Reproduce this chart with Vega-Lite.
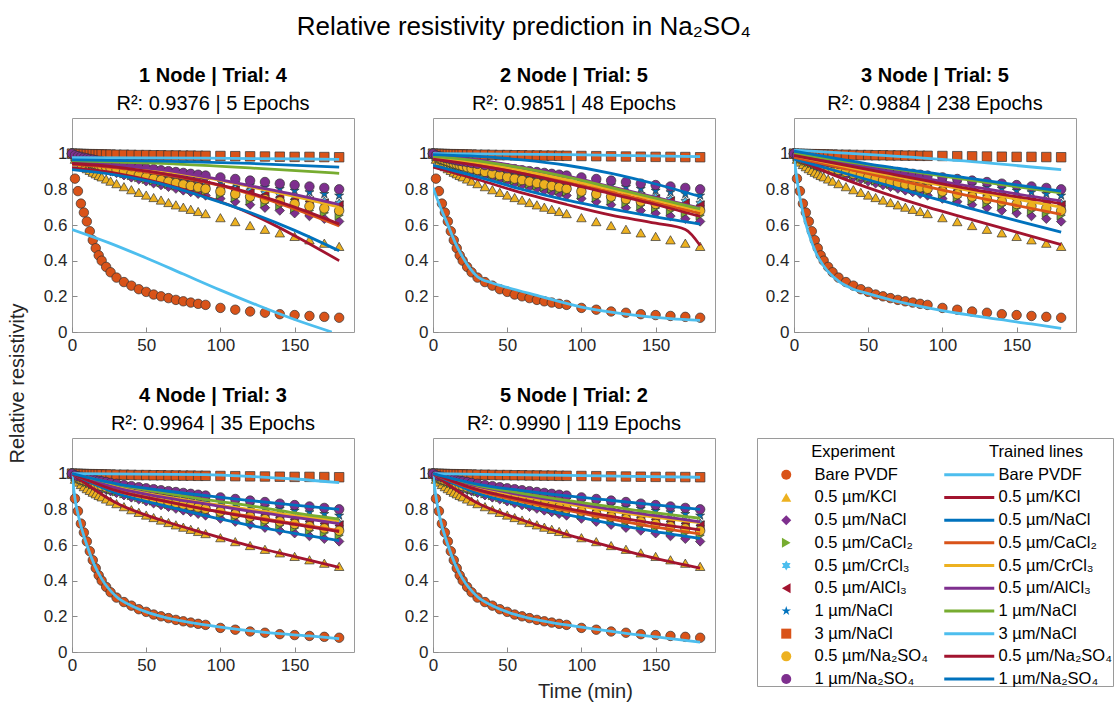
{
"$schema": "https://vega.github.io/schema/vega-lite/v6.json",
"padding": {"left": 7, "top": 13, "right": 0, "bottom": 0},
"title": {"text": "Relative resistivity prediction in Na₂SO₄", "fontSize": 26, "fontWeight": "normal", "anchor": "middle", "offset": 26, "dx": -38},
"datasets": {
"exp": [
{"s":"Bare PVDF","t":0,"v":1},{"s":"Bare PVDF","t":2,"v":0.86},{"s":"Bare PVDF","t":4,"v":0.79},{"s":"Bare PVDF","t":6,"v":0.72},{"s":"Bare PVDF","t":8,"v":0.67},{"s":"Bare PVDF","t":10,"v":0.62},{"s":"Bare PVDF","t":12,"v":0.565},{"s":"Bare PVDF","t":14,"v":0.515},{"s":"Bare PVDF","t":16,"v":0.47},{"s":"Bare PVDF","t":18,"v":0.43},{"s":"Bare PVDF","t":20,"v":0.4},{"s":"Bare PVDF","t":23,"v":0.365},{"s":"Bare PVDF","t":26,"v":0.335},{"s":"Bare PVDF","t":30,"v":0.305},{"s":"Bare PVDF","t":35,"v":0.28},{"s":"Bare PVDF","t":40,"v":0.26},{"s":"Bare PVDF","t":45,"v":0.24},{"s":"Bare PVDF","t":50,"v":0.225},{"s":"Bare PVDF","t":55,"v":0.21},{"s":"Bare PVDF","t":60,"v":0.2},{"s":"Bare PVDF","t":65,"v":0.19},{"s":"Bare PVDF","t":70,"v":0.18},{"s":"Bare PVDF","t":75,"v":0.172},{"s":"Bare PVDF","t":80,"v":0.165},{"s":"Bare PVDF","t":85,"v":0.158},{"s":"Bare PVDF","t":90,"v":0.152},{"s":"Bare PVDF","t":100,"v":0.135},{"s":"Bare PVDF","t":110,"v":0.125},{"s":"Bare PVDF","t":120,"v":0.115},{"s":"Bare PVDF","t":130,"v":0.108},{"s":"Bare PVDF","t":140,"v":0.1},{"s":"Bare PVDF","t":150,"v":0.095},{"s":"Bare PVDF","t":160,"v":0.09},{"s":"Bare PVDF","t":170,"v":0.085},{"s":"Bare PVDF","t":180,"v":0.08},
{"s":"0.5 µm/KCl","t":0,"v":1},{"s":"0.5 µm/KCl","t":2,"v":0.969},{"s":"0.5 µm/KCl","t":4,"v":0.953},{"s":"0.5 µm/KCl","t":6,"v":0.939},{"s":"0.5 µm/KCl","t":8,"v":0.927},{"s":"0.5 µm/KCl","t":10,"v":0.916},{"s":"0.5 µm/KCl","t":12,"v":0.906},{"s":"0.5 µm/KCl","t":14,"v":0.896},{"s":"0.5 µm/KCl","t":16,"v":0.887},{"s":"0.5 µm/KCl","t":18,"v":0.878},{"s":"0.5 µm/KCl","t":20,"v":0.87},{"s":"0.5 µm/KCl","t":23,"v":0.858},{"s":"0.5 µm/KCl","t":26,"v":0.846},{"s":"0.5 µm/KCl","t":30,"v":0.832},{"s":"0.5 µm/KCl","t":35,"v":0.815},{"s":"0.5 µm/KCl","t":40,"v":0.798},{"s":"0.5 µm/KCl","t":45,"v":0.783},{"s":"0.5 µm/KCl","t":50,"v":0.768},{"s":"0.5 µm/KCl","t":55,"v":0.754},{"s":"0.5 µm/KCl","t":60,"v":0.74},{"s":"0.5 µm/KCl","t":65,"v":0.726},{"s":"0.5 µm/KCl","t":70,"v":0.713},{"s":"0.5 µm/KCl","t":75,"v":0.7},{"s":"0.5 µm/KCl","t":80,"v":0.688},{"s":"0.5 µm/KCl","t":85,"v":0.676},{"s":"0.5 µm/KCl","t":90,"v":0.664},{"s":"0.5 µm/KCl","t":100,"v":0.641},{"s":"0.5 µm/KCl","t":110,"v":0.619},{"s":"0.5 µm/KCl","t":120,"v":0.597},{"s":"0.5 µm/KCl","t":130,"v":0.576},{"s":"0.5 µm/KCl","t":140,"v":0.556},{"s":"0.5 µm/KCl","t":150,"v":0.536},{"s":"0.5 µm/KCl","t":160,"v":0.517},{"s":"0.5 µm/KCl","t":170,"v":0.498},{"s":"0.5 µm/KCl","t":180,"v":0.48},
{"s":"0.5 µm/NaCl","t":0,"v":1},{"s":"0.5 µm/NaCl","t":2,"v":0.984},{"s":"0.5 µm/NaCl","t":4,"v":0.974},{"s":"0.5 µm/NaCl","t":6,"v":0.965},{"s":"0.5 µm/NaCl","t":8,"v":0.957},{"s":"0.5 µm/NaCl","t":10,"v":0.95},{"s":"0.5 µm/NaCl","t":12,"v":0.943},{"s":"0.5 µm/NaCl","t":14,"v":0.936},{"s":"0.5 µm/NaCl","t":16,"v":0.93},{"s":"0.5 µm/NaCl","t":18,"v":0.924},{"s":"0.5 µm/NaCl","t":20,"v":0.918},{"s":"0.5 µm/NaCl","t":23,"v":0.91},{"s":"0.5 µm/NaCl","t":26,"v":0.902},{"s":"0.5 µm/NaCl","t":30,"v":0.892},{"s":"0.5 µm/NaCl","t":35,"v":0.879},{"s":"0.5 µm/NaCl","t":40,"v":0.867},{"s":"0.5 µm/NaCl","t":45,"v":0.856},{"s":"0.5 µm/NaCl","t":50,"v":0.845},{"s":"0.5 µm/NaCl","t":55,"v":0.834},{"s":"0.5 µm/NaCl","t":60,"v":0.824},{"s":"0.5 µm/NaCl","t":65,"v":0.814},{"s":"0.5 µm/NaCl","t":70,"v":0.804},{"s":"0.5 µm/NaCl","t":75,"v":0.794},{"s":"0.5 µm/NaCl","t":80,"v":0.785},{"s":"0.5 µm/NaCl","t":85,"v":0.775},{"s":"0.5 µm/NaCl","t":90,"v":0.766},{"s":"0.5 µm/NaCl","t":100,"v":0.748},{"s":"0.5 µm/NaCl","t":110,"v":0.731},{"s":"0.5 µm/NaCl","t":120,"v":0.714},{"s":"0.5 µm/NaCl","t":130,"v":0.697},{"s":"0.5 µm/NaCl","t":140,"v":0.681},{"s":"0.5 µm/NaCl","t":150,"v":0.666},{"s":"0.5 µm/NaCl","t":160,"v":0.65},{"s":"0.5 µm/NaCl","t":170,"v":0.635},{"s":"0.5 µm/NaCl","t":180,"v":0.62},
{"s":"0.5 µm/CaCl₂","t":0,"v":1},{"s":"0.5 µm/CaCl₂","t":2,"v":0.985},{"s":"0.5 µm/CaCl₂","t":4,"v":0.976},{"s":"0.5 µm/CaCl₂","t":6,"v":0.968},{"s":"0.5 µm/CaCl₂","t":8,"v":0.961},{"s":"0.5 µm/CaCl₂","t":10,"v":0.954},{"s":"0.5 µm/CaCl₂","t":12,"v":0.948},{"s":"0.5 µm/CaCl₂","t":14,"v":0.942},{"s":"0.5 µm/CaCl₂","t":16,"v":0.937},{"s":"0.5 µm/CaCl₂","t":18,"v":0.931},{"s":"0.5 µm/CaCl₂","t":20,"v":0.926},{"s":"0.5 µm/CaCl₂","t":23,"v":0.918},{"s":"0.5 µm/CaCl₂","t":26,"v":0.911},{"s":"0.5 µm/CaCl₂","t":30,"v":0.902},{"s":"0.5 µm/CaCl₂","t":35,"v":0.89},{"s":"0.5 µm/CaCl₂","t":40,"v":0.88},{"s":"0.5 µm/CaCl₂","t":45,"v":0.869},{"s":"0.5 µm/CaCl₂","t":50,"v":0.859},{"s":"0.5 µm/CaCl₂","t":55,"v":0.85},{"s":"0.5 µm/CaCl₂","t":60,"v":0.84},{"s":"0.5 µm/CaCl₂","t":65,"v":0.831},{"s":"0.5 µm/CaCl₂","t":70,"v":0.822},{"s":"0.5 µm/CaCl₂","t":75,"v":0.813},{"s":"0.5 µm/CaCl₂","t":80,"v":0.804},{"s":"0.5 µm/CaCl₂","t":85,"v":0.796},{"s":"0.5 µm/CaCl₂","t":90,"v":0.788},{"s":"0.5 µm/CaCl₂","t":100,"v":0.771},{"s":"0.5 µm/CaCl₂","t":110,"v":0.756},{"s":"0.5 µm/CaCl₂","t":120,"v":0.74},{"s":"0.5 µm/CaCl₂","t":130,"v":0.725},{"s":"0.5 µm/CaCl₂","t":140,"v":0.711},{"s":"0.5 µm/CaCl₂","t":150,"v":0.696},{"s":"0.5 µm/CaCl₂","t":160,"v":0.682},{"s":"0.5 µm/CaCl₂","t":170,"v":0.669},{"s":"0.5 µm/CaCl₂","t":180,"v":0.655},
{"s":"0.5 µm/CrCl₃","t":0,"v":1},{"s":"0.5 µm/CrCl₃","t":2,"v":0.988},{"s":"0.5 µm/CrCl₃","t":4,"v":0.981},{"s":"0.5 µm/CrCl₃","t":6,"v":0.974},{"s":"0.5 µm/CrCl₃","t":8,"v":0.968},{"s":"0.5 µm/CrCl₃","t":10,"v":0.963},{"s":"0.5 µm/CrCl₃","t":12,"v":0.958},{"s":"0.5 µm/CrCl₃","t":14,"v":0.953},{"s":"0.5 µm/CrCl₃","t":16,"v":0.949},{"s":"0.5 µm/CrCl₃","t":18,"v":0.944},{"s":"0.5 µm/CrCl₃","t":20,"v":0.94},{"s":"0.5 µm/CrCl₃","t":23,"v":0.934},{"s":"0.5 µm/CrCl₃","t":26,"v":0.928},{"s":"0.5 µm/CrCl₃","t":30,"v":0.92},{"s":"0.5 µm/CrCl₃","t":35,"v":0.911},{"s":"0.5 µm/CrCl₃","t":40,"v":0.902},{"s":"0.5 µm/CrCl₃","t":45,"v":0.894},{"s":"0.5 µm/CrCl₃","t":50,"v":0.886},{"s":"0.5 µm/CrCl₃","t":55,"v":0.878},{"s":"0.5 µm/CrCl₃","t":60,"v":0.87},{"s":"0.5 µm/CrCl₃","t":65,"v":0.863},{"s":"0.5 µm/CrCl₃","t":70,"v":0.855},{"s":"0.5 µm/CrCl₃","t":75,"v":0.848},{"s":"0.5 µm/CrCl₃","t":80,"v":0.841},{"s":"0.5 µm/CrCl₃","t":85,"v":0.834},{"s":"0.5 µm/CrCl₃","t":90,"v":0.828},{"s":"0.5 µm/CrCl₃","t":100,"v":0.814},{"s":"0.5 µm/CrCl₃","t":110,"v":0.802},{"s":"0.5 µm/CrCl₃","t":120,"v":0.789},{"s":"0.5 µm/CrCl₃","t":130,"v":0.777},{"s":"0.5 µm/CrCl₃","t":140,"v":0.765},{"s":"0.5 µm/CrCl₃","t":150,"v":0.754},{"s":"0.5 µm/CrCl₃","t":160,"v":0.742},{"s":"0.5 µm/CrCl₃","t":170,"v":0.731},{"s":"0.5 µm/CrCl₃","t":180,"v":0.72},
{"s":"0.5 µm/AlCl₃","t":0,"v":1},{"s":"0.5 µm/AlCl₃","t":2,"v":0.988},{"s":"0.5 µm/AlCl₃","t":4,"v":0.98},{"s":"0.5 µm/AlCl₃","t":6,"v":0.973},{"s":"0.5 µm/AlCl₃","t":8,"v":0.967},{"s":"0.5 µm/AlCl₃","t":10,"v":0.962},{"s":"0.5 µm/AlCl₃","t":12,"v":0.956},{"s":"0.5 µm/AlCl₃","t":14,"v":0.951},{"s":"0.5 µm/AlCl₃","t":16,"v":0.947},{"s":"0.5 µm/AlCl₃","t":18,"v":0.942},{"s":"0.5 µm/AlCl₃","t":20,"v":0.938},{"s":"0.5 µm/AlCl₃","t":23,"v":0.931},{"s":"0.5 µm/AlCl₃","t":26,"v":0.925},{"s":"0.5 µm/AlCl₃","t":30,"v":0.917},{"s":"0.5 µm/AlCl₃","t":35,"v":0.908},{"s":"0.5 µm/AlCl₃","t":40,"v":0.899},{"s":"0.5 µm/AlCl₃","t":45,"v":0.89},{"s":"0.5 µm/AlCl₃","t":50,"v":0.882},{"s":"0.5 µm/AlCl₃","t":55,"v":0.874},{"s":"0.5 µm/AlCl₃","t":60,"v":0.866},{"s":"0.5 µm/AlCl₃","t":65,"v":0.858},{"s":"0.5 µm/AlCl₃","t":70,"v":0.85},{"s":"0.5 µm/AlCl₃","t":75,"v":0.843},{"s":"0.5 µm/AlCl₃","t":80,"v":0.836},{"s":"0.5 µm/AlCl₃","t":85,"v":0.829},{"s":"0.5 µm/AlCl₃","t":90,"v":0.821},{"s":"0.5 µm/AlCl₃","t":100,"v":0.808},{"s":"0.5 µm/AlCl₃","t":110,"v":0.795},{"s":"0.5 µm/AlCl₃","t":120,"v":0.782},{"s":"0.5 µm/AlCl₃","t":130,"v":0.769},{"s":"0.5 µm/AlCl₃","t":140,"v":0.757},{"s":"0.5 µm/AlCl₃","t":150,"v":0.745},{"s":"0.5 µm/AlCl₃","t":160,"v":0.733},{"s":"0.5 µm/AlCl₃","t":170,"v":0.721},{"s":"0.5 µm/AlCl₃","t":180,"v":0.71},
{"s":"1 µm/NaCl","t":0,"v":1},{"s":"1 µm/NaCl","t":2,"v":0.99},{"s":"1 µm/NaCl","t":4,"v":0.984},{"s":"1 µm/NaCl","t":6,"v":0.978},{"s":"1 µm/NaCl","t":8,"v":0.973},{"s":"1 µm/NaCl","t":10,"v":0.969},{"s":"1 µm/NaCl","t":12,"v":0.965},{"s":"1 µm/NaCl","t":14,"v":0.961},{"s":"1 µm/NaCl","t":16,"v":0.957},{"s":"1 µm/NaCl","t":18,"v":0.953},{"s":"1 µm/NaCl","t":20,"v":0.95},{"s":"1 µm/NaCl","t":23,"v":0.944},{"s":"1 µm/NaCl","t":26,"v":0.939},{"s":"1 µm/NaCl","t":30,"v":0.933},{"s":"1 µm/NaCl","t":35,"v":0.925},{"s":"1 µm/NaCl","t":40,"v":0.918},{"s":"1 µm/NaCl","t":45,"v":0.911},{"s":"1 µm/NaCl","t":50,"v":0.904},{"s":"1 µm/NaCl","t":55,"v":0.898},{"s":"1 µm/NaCl","t":60,"v":0.891},{"s":"1 µm/NaCl","t":65,"v":0.885},{"s":"1 µm/NaCl","t":70,"v":0.879},{"s":"1 µm/NaCl","t":75,"v":0.873},{"s":"1 µm/NaCl","t":80,"v":0.867},{"s":"1 µm/NaCl","t":85,"v":0.861},{"s":"1 µm/NaCl","t":90,"v":0.855},{"s":"1 µm/NaCl","t":100,"v":0.844},{"s":"1 µm/NaCl","t":110,"v":0.834},{"s":"1 µm/NaCl","t":120,"v":0.823},{"s":"1 µm/NaCl","t":130,"v":0.813},{"s":"1 µm/NaCl","t":140,"v":0.803},{"s":"1 µm/NaCl","t":150,"v":0.793},{"s":"1 µm/NaCl","t":160,"v":0.784},{"s":"1 µm/NaCl","t":170,"v":0.774},{"s":"1 µm/NaCl","t":180,"v":0.765},
{"s":"3 µm/NaCl","t":0,"v":1},{"s":"3 µm/NaCl","t":2,"v":0.999},{"s":"3 µm/NaCl","t":4,"v":0.999},{"s":"3 µm/NaCl","t":6,"v":0.998},{"s":"3 µm/NaCl","t":8,"v":0.998},{"s":"3 µm/NaCl","t":10,"v":0.997},{"s":"3 µm/NaCl","t":12,"v":0.997},{"s":"3 µm/NaCl","t":14,"v":0.997},{"s":"3 µm/NaCl","t":16,"v":0.996},{"s":"3 µm/NaCl","t":18,"v":0.996},{"s":"3 µm/NaCl","t":20,"v":0.996},{"s":"3 µm/NaCl","t":23,"v":0.995},{"s":"3 µm/NaCl","t":26,"v":0.995},{"s":"3 µm/NaCl","t":30,"v":0.994},{"s":"3 µm/NaCl","t":35,"v":0.994},{"s":"3 µm/NaCl","t":40,"v":0.993},{"s":"3 µm/NaCl","t":45,"v":0.992},{"s":"3 µm/NaCl","t":50,"v":0.992},{"s":"3 µm/NaCl","t":55,"v":0.991},{"s":"3 µm/NaCl","t":60,"v":0.991},{"s":"3 µm/NaCl","t":65,"v":0.99},{"s":"3 µm/NaCl","t":70,"v":0.99},{"s":"3 µm/NaCl","t":75,"v":0.989},{"s":"3 µm/NaCl","t":80,"v":0.989},{"s":"3 µm/NaCl","t":85,"v":0.988},{"s":"3 µm/NaCl","t":90,"v":0.988},{"s":"3 µm/NaCl","t":100,"v":0.987},{"s":"3 µm/NaCl","t":110,"v":0.986},{"s":"3 µm/NaCl","t":120,"v":0.985},{"s":"3 µm/NaCl","t":130,"v":0.984},{"s":"3 µm/NaCl","t":140,"v":0.983},{"s":"3 µm/NaCl","t":150,"v":0.982},{"s":"3 µm/NaCl","t":160,"v":0.982},{"s":"3 µm/NaCl","t":170,"v":0.981},{"s":"3 µm/NaCl","t":180,"v":0.98},
{"s":"0.5 µm/Na₂SO₄","t":0,"v":1},{"s":"0.5 µm/Na₂SO₄","t":2,"v":0.986},{"s":"0.5 µm/Na₂SO₄","t":4,"v":0.978},{"s":"0.5 µm/Na₂SO₄","t":6,"v":0.97},{"s":"0.5 µm/Na₂SO₄","t":8,"v":0.964},{"s":"0.5 µm/Na₂SO₄","t":10,"v":0.958},{"s":"0.5 µm/Na₂SO₄","t":12,"v":0.952},{"s":"0.5 µm/Na₂SO₄","t":14,"v":0.946},{"s":"0.5 µm/Na₂SO₄","t":16,"v":0.941},{"s":"0.5 µm/Na₂SO₄","t":18,"v":0.936},{"s":"0.5 µm/Na₂SO₄","t":20,"v":0.931},{"s":"0.5 µm/Na₂SO₄","t":23,"v":0.924},{"s":"0.5 µm/Na₂SO₄","t":26,"v":0.917},{"s":"0.5 µm/Na₂SO₄","t":30,"v":0.909},{"s":"0.5 µm/Na₂SO₄","t":35,"v":0.898},{"s":"0.5 µm/Na₂SO₄","t":40,"v":0.888},{"s":"0.5 µm/Na₂SO₄","t":45,"v":0.879},{"s":"0.5 µm/Na₂SO₄","t":50,"v":0.869},{"s":"0.5 µm/Na₂SO₄","t":55,"v":0.86},{"s":"0.5 µm/Na₂SO₄","t":60,"v":0.852},{"s":"0.5 µm/Na₂SO₄","t":65,"v":0.843},{"s":"0.5 µm/Na₂SO₄","t":70,"v":0.835},{"s":"0.5 µm/Na₂SO₄","t":75,"v":0.827},{"s":"0.5 µm/Na₂SO₄","t":80,"v":0.819},{"s":"0.5 µm/Na₂SO₄","t":85,"v":0.811},{"s":"0.5 µm/Na₂SO₄","t":90,"v":0.803},{"s":"0.5 µm/Na₂SO₄","t":100,"v":0.788},{"s":"0.5 µm/Na₂SO₄","t":110,"v":0.773},{"s":"0.5 µm/Na₂SO₄","t":120,"v":0.759},{"s":"0.5 µm/Na₂SO₄","t":130,"v":0.745},{"s":"0.5 µm/Na₂SO₄","t":140,"v":0.732},{"s":"0.5 µm/Na₂SO₄","t":150,"v":0.718},{"s":"0.5 µm/Na₂SO₄","t":160,"v":0.705},{"s":"0.5 µm/Na₂SO₄","t":170,"v":0.693},{"s":"0.5 µm/Na₂SO₄","t":180,"v":0.68},
{"s":"1 µm/Na₂SO₄","t":0,"v":1},{"s":"1 µm/Na₂SO₄","t":2,"v":0.991},{"s":"1 µm/Na₂SO₄","t":4,"v":0.986},{"s":"1 µm/Na₂SO₄","t":6,"v":0.982},{"s":"1 µm/Na₂SO₄","t":8,"v":0.977},{"s":"1 µm/Na₂SO₄","t":10,"v":0.974},{"s":"1 µm/Na₂SO₄","t":12,"v":0.97},{"s":"1 µm/Na₂SO₄","t":14,"v":0.967},{"s":"1 µm/Na₂SO₄","t":16,"v":0.963},{"s":"1 µm/Na₂SO₄","t":18,"v":0.96},{"s":"1 µm/Na₂SO₄","t":20,"v":0.957},{"s":"1 µm/Na₂SO₄","t":23,"v":0.953},{"s":"1 µm/Na₂SO₄","t":26,"v":0.948},{"s":"1 µm/Na₂SO₄","t":30,"v":0.943},{"s":"1 µm/Na₂SO₄","t":35,"v":0.936},{"s":"1 µm/Na₂SO₄","t":40,"v":0.93},{"s":"1 µm/Na₂SO₄","t":45,"v":0.924},{"s":"1 µm/Na₂SO₄","t":50,"v":0.918},{"s":"1 µm/Na₂SO₄","t":55,"v":0.913},{"s":"1 µm/Na₂SO₄","t":60,"v":0.907},{"s":"1 µm/Na₂SO₄","t":65,"v":0.902},{"s":"1 µm/Na₂SO₄","t":70,"v":0.897},{"s":"1 µm/Na₂SO₄","t":75,"v":0.892},{"s":"1 µm/Na₂SO₄","t":80,"v":0.887},{"s":"1 µm/Na₂SO₄","t":85,"v":0.882},{"s":"1 µm/Na₂SO₄","t":90,"v":0.877},{"s":"1 µm/Na₂SO₄","t":100,"v":0.867},{"s":"1 µm/Na₂SO₄","t":110,"v":0.858},{"s":"1 µm/Na₂SO₄","t":120,"v":0.849},{"s":"1 µm/Na₂SO₄","t":130,"v":0.841},{"s":"1 µm/Na₂SO₄","t":140,"v":0.832},{"s":"1 µm/Na₂SO₄","t":150,"v":0.824},{"s":"1 µm/Na₂SO₄","t":160,"v":0.816},{"s":"1 µm/Na₂SO₄","t":170,"v":0.808},{"s":"1 µm/Na₂SO₄","t":180,"v":0.8}
],
"fit": [
{"p":1,"s":"Bare PVDF","t":0,"v":0.575},{"p":1,"s":"Bare PVDF","t":25,"v":0.5},{"p":1,"s":"Bare PVDF","t":50,"v":0.415},{"p":1,"s":"Bare PVDF","t":75,"v":0.325},{"p":1,"s":"Bare PVDF","t":100,"v":0.235},{"p":1,"s":"Bare PVDF","t":125,"v":0.15},{"p":1,"s":"Bare PVDF","t":150,"v":0.07},{"p":1,"s":"Bare PVDF","t":175,"v":0},
{"p":1,"s":"0.5 µm/KCl","t":0,"v":0.92},{"p":1,"s":"0.5 µm/KCl","t":30,"v":0.89},{"p":1,"s":"0.5 µm/KCl","t":60,"v":0.835},{"p":1,"s":"0.5 µm/KCl","t":90,"v":0.76},{"p":1,"s":"0.5 µm/KCl","t":120,"v":0.665},{"p":1,"s":"0.5 µm/KCl","t":150,"v":0.54},{"p":1,"s":"0.5 µm/KCl","t":180,"v":0.4},
{"p":1,"s":"0.5 µm/NaCl","t":0,"v":0.91},{"p":1,"s":"0.5 µm/NaCl","t":30,"v":0.88},{"p":1,"s":"0.5 µm/NaCl","t":60,"v":0.83},{"p":1,"s":"0.5 µm/NaCl","t":90,"v":0.755},{"p":1,"s":"0.5 µm/NaCl","t":120,"v":0.67},{"p":1,"s":"0.5 µm/NaCl","t":150,"v":0.57},{"p":1,"s":"0.5 µm/NaCl","t":180,"v":0.455},
{"p":1,"s":"0.5 µm/CaCl₂","t":0,"v":0.94},{"p":1,"s":"0.5 µm/CaCl₂","t":30,"v":0.92},{"p":1,"s":"0.5 µm/CaCl₂","t":60,"v":0.885},{"p":1,"s":"0.5 µm/CaCl₂","t":90,"v":0.84},{"p":1,"s":"0.5 µm/CaCl₂","t":120,"v":0.775},{"p":1,"s":"0.5 µm/CaCl₂","t":150,"v":0.69},{"p":1,"s":"0.5 µm/CaCl₂","t":180,"v":0.595},
{"p":1,"s":"0.5 µm/CrCl₃","t":0,"v":0.95},{"p":1,"s":"0.5 µm/CrCl₃","t":30,"v":0.932},{"p":1,"s":"0.5 µm/CrCl₃","t":60,"v":0.905},{"p":1,"s":"0.5 µm/CrCl₃","t":90,"v":0.865},{"p":1,"s":"0.5 µm/CrCl₃","t":120,"v":0.815},{"p":1,"s":"0.5 µm/CrCl₃","t":150,"v":0.76},{"p":1,"s":"0.5 µm/CrCl₃","t":180,"v":0.7},
{"p":1,"s":"0.5 µm/AlCl₃","t":0,"v":0.95},{"p":1,"s":"0.5 µm/AlCl₃","t":30,"v":0.935},{"p":1,"s":"0.5 µm/AlCl₃","t":60,"v":0.91},{"p":1,"s":"0.5 µm/AlCl₃","t":90,"v":0.87},{"p":1,"s":"0.5 µm/AlCl₃","t":120,"v":0.82},{"p":1,"s":"0.5 µm/AlCl₃","t":150,"v":0.77},{"p":1,"s":"0.5 µm/AlCl₃","t":180,"v":0.715},
{"p":1,"s":"1 µm/NaCl","t":0,"v":0.96},{"p":1,"s":"1 µm/NaCl","t":60,"v":0.945},{"p":1,"s":"1 µm/NaCl","t":120,"v":0.92},{"p":1,"s":"1 µm/NaCl","t":180,"v":0.89},
{"p":1,"s":"3 µm/NaCl","t":0,"v":0.978},{"p":1,"s":"3 µm/NaCl","t":90,"v":0.975},{"p":1,"s":"3 µm/NaCl","t":180,"v":0.968},
{"p":1,"s":"0.5 µm/Na₂SO₄","t":0,"v":0.945},{"p":1,"s":"0.5 µm/Na₂SO₄","t":30,"v":0.925},{"p":1,"s":"0.5 µm/Na₂SO₄","t":60,"v":0.89},{"p":1,"s":"0.5 µm/Na₂SO₄","t":90,"v":0.843},{"p":1,"s":"0.5 µm/Na₂SO₄","t":120,"v":0.78},{"p":1,"s":"0.5 µm/Na₂SO₄","t":150,"v":0.7},{"p":1,"s":"0.5 µm/Na₂SO₄","t":180,"v":0.605},
{"p":1,"s":"1 µm/Na₂SO₄","t":0,"v":0.965},{"p":1,"s":"1 µm/Na₂SO₄","t":60,"v":0.958},{"p":1,"s":"1 µm/Na₂SO₄","t":120,"v":0.945},{"p":1,"s":"1 µm/Na₂SO₄","t":180,"v":0.925},
{"p":2,"s":"Bare PVDF","t":0,"v":0.81},{"p":2,"s":"Bare PVDF","t":5,"v":0.7},{"p":2,"s":"Bare PVDF","t":10,"v":0.6},{"p":2,"s":"Bare PVDF","t":15,"v":0.5},{"p":2,"s":"Bare PVDF","t":20,"v":0.42},{"p":2,"s":"Bare PVDF","t":25,"v":0.355},{"p":2,"s":"Bare PVDF","t":30,"v":0.31},{"p":2,"s":"Bare PVDF","t":40,"v":0.275},{"p":2,"s":"Bare PVDF","t":50,"v":0.25},{"p":2,"s":"Bare PVDF","t":70,"v":0.205},{"p":2,"s":"Bare PVDF","t":100,"v":0.14},{"p":2,"s":"Bare PVDF","t":130,"v":0.1},{"p":2,"s":"Bare PVDF","t":160,"v":0.075},{"p":2,"s":"Bare PVDF","t":180,"v":0.065},
{"p":2,"s":"0.5 µm/KCl","t":0,"v":0.925},{"p":2,"s":"0.5 µm/KCl","t":30,"v":0.855},{"p":2,"s":"0.5 µm/KCl","t":60,"v":0.78},{"p":2,"s":"0.5 µm/KCl","t":90,"v":0.715},{"p":2,"s":"0.5 µm/KCl","t":120,"v":0.655},{"p":2,"s":"0.5 µm/KCl","t":150,"v":0.61},{"p":2,"s":"0.5 µm/KCl","t":170,"v":0.575},{"p":2,"s":"0.5 µm/KCl","t":180,"v":0.485},
{"p":2,"s":"0.5 µm/NaCl","t":0,"v":0.935},{"p":2,"s":"0.5 µm/NaCl","t":30,"v":0.87},{"p":2,"s":"0.5 µm/NaCl","t":60,"v":0.8},{"p":2,"s":"0.5 µm/NaCl","t":90,"v":0.74},{"p":2,"s":"0.5 µm/NaCl","t":120,"v":0.69},{"p":2,"s":"0.5 µm/NaCl","t":150,"v":0.645},{"p":2,"s":"0.5 µm/NaCl","t":180,"v":0.605},
{"p":2,"s":"0.5 µm/CaCl₂","t":0,"v":0.975},{"p":2,"s":"0.5 µm/CaCl₂","t":30,"v":0.94},{"p":2,"s":"0.5 µm/CaCl₂","t":60,"v":0.895},{"p":2,"s":"0.5 µm/CaCl₂","t":90,"v":0.84},{"p":2,"s":"0.5 µm/CaCl₂","t":120,"v":0.785},{"p":2,"s":"0.5 µm/CaCl₂","t":150,"v":0.725},{"p":2,"s":"0.5 µm/CaCl₂","t":180,"v":0.665},
{"p":2,"s":"0.5 µm/CrCl₃","t":0,"v":0.98},{"p":2,"s":"0.5 µm/CrCl₃","t":30,"v":0.95},{"p":2,"s":"0.5 µm/CrCl₃","t":60,"v":0.905},{"p":2,"s":"0.5 µm/CrCl₃","t":90,"v":0.855},{"p":2,"s":"0.5 µm/CrCl₃","t":120,"v":0.8},{"p":2,"s":"0.5 µm/CrCl₃","t":150,"v":0.74},{"p":2,"s":"0.5 µm/CrCl₃","t":180,"v":0.68},
{"p":2,"s":"0.5 µm/AlCl₃","t":0,"v":0.99},{"p":2,"s":"0.5 µm/AlCl₃","t":30,"v":0.965},{"p":2,"s":"0.5 µm/AlCl₃","t":60,"v":0.925},{"p":2,"s":"0.5 µm/AlCl₃","t":90,"v":0.875},{"p":2,"s":"0.5 µm/AlCl₃","t":120,"v":0.815},{"p":2,"s":"0.5 µm/AlCl₃","t":150,"v":0.755},{"p":2,"s":"0.5 µm/AlCl₃","t":180,"v":0.695},
{"p":2,"s":"1 µm/NaCl","t":0,"v":0.985},{"p":2,"s":"1 µm/NaCl","t":30,"v":0.96},{"p":2,"s":"1 µm/NaCl","t":60,"v":0.92},{"p":2,"s":"1 µm/NaCl","t":90,"v":0.87},{"p":2,"s":"1 µm/NaCl","t":120,"v":0.81},{"p":2,"s":"1 µm/NaCl","t":150,"v":0.75},{"p":2,"s":"1 µm/NaCl","t":180,"v":0.69},
{"p":2,"s":"3 µm/NaCl","t":0,"v":1},{"p":2,"s":"3 µm/NaCl","t":90,"v":0.995},{"p":2,"s":"3 µm/NaCl","t":180,"v":0.983},
{"p":2,"s":"0.5 µm/Na₂SO₄","t":0,"v":0.97},{"p":2,"s":"0.5 µm/Na₂SO₄","t":30,"v":0.935},{"p":2,"s":"0.5 µm/Na₂SO₄","t":60,"v":0.89},{"p":2,"s":"0.5 µm/Na₂SO₄","t":90,"v":0.835},{"p":2,"s":"0.5 µm/Na₂SO₄","t":120,"v":0.775},{"p":2,"s":"0.5 µm/Na₂SO₄","t":150,"v":0.715},{"p":2,"s":"0.5 µm/Na₂SO₄","t":180,"v":0.648},
{"p":2,"s":"1 µm/Na₂SO₄","t":0,"v":0.995},{"p":2,"s":"1 µm/Na₂SO₄","t":30,"v":0.985},{"p":2,"s":"1 µm/Na₂SO₄","t":60,"v":0.965},{"p":2,"s":"1 µm/Na₂SO₄","t":90,"v":0.935},{"p":2,"s":"1 µm/Na₂SO₄","t":120,"v":0.89},{"p":2,"s":"1 µm/Na₂SO₄","t":150,"v":0.83},{"p":2,"s":"1 µm/Na₂SO₄","t":180,"v":0.76},
{"p":3,"s":"Bare PVDF","t":0,"v":0.98},{"p":3,"s":"Bare PVDF","t":3,"v":0.8},{"p":3,"s":"Bare PVDF","t":6,"v":0.67},{"p":3,"s":"Bare PVDF","t":10,"v":0.55},{"p":3,"s":"Bare PVDF","t":15,"v":0.44},{"p":3,"s":"Bare PVDF","t":20,"v":0.37},{"p":3,"s":"Bare PVDF","t":30,"v":0.285},{"p":3,"s":"Bare PVDF","t":40,"v":0.24},{"p":3,"s":"Bare PVDF","t":50,"v":0.215},{"p":3,"s":"Bare PVDF","t":70,"v":0.17},{"p":3,"s":"Bare PVDF","t":100,"v":0.12},{"p":3,"s":"Bare PVDF","t":130,"v":0.08},{"p":3,"s":"Bare PVDF","t":160,"v":0.045},{"p":3,"s":"Bare PVDF","t":180,"v":0.02},
{"p":3,"s":"0.5 µm/KCl","t":0,"v":0.975},{"p":3,"s":"0.5 µm/KCl","t":30,"v":0.87},{"p":3,"s":"0.5 µm/KCl","t":60,"v":0.78},{"p":3,"s":"0.5 µm/KCl","t":90,"v":0.7},{"p":3,"s":"0.5 µm/KCl","t":120,"v":0.63},{"p":3,"s":"0.5 µm/KCl","t":150,"v":0.56},{"p":3,"s":"0.5 µm/KCl","t":180,"v":0.49},
{"p":3,"s":"0.5 µm/NaCl","t":0,"v":0.97},{"p":3,"s":"0.5 µm/NaCl","t":60,"v":0.83},{"p":3,"s":"0.5 µm/NaCl","t":120,"v":0.69},{"p":3,"s":"0.5 µm/NaCl","t":180,"v":0.56},
{"p":3,"s":"0.5 µm/CaCl₂","t":0,"v":0.98},{"p":3,"s":"0.5 µm/CaCl₂","t":60,"v":0.87},{"p":3,"s":"0.5 µm/CaCl₂","t":120,"v":0.76},{"p":3,"s":"0.5 µm/CaCl₂","t":180,"v":0.66},
{"p":3,"s":"0.5 µm/CrCl₃","t":0,"v":0.99},{"p":3,"s":"0.5 µm/CrCl₃","t":60,"v":0.885},{"p":3,"s":"0.5 µm/CrCl₃","t":120,"v":0.79},{"p":3,"s":"0.5 µm/CrCl₃","t":180,"v":0.7},
{"p":3,"s":"0.5 µm/AlCl₃","t":0,"v":1},{"p":3,"s":"0.5 µm/AlCl₃","t":60,"v":0.905},{"p":3,"s":"0.5 µm/AlCl₃","t":120,"v":0.815},{"p":3,"s":"0.5 µm/AlCl₃","t":180,"v":0.735},
{"p":3,"s":"1 µm/NaCl","t":0,"v":1},{"p":3,"s":"1 µm/NaCl","t":60,"v":0.925},{"p":3,"s":"1 µm/NaCl","t":120,"v":0.85},{"p":3,"s":"1 µm/NaCl","t":180,"v":0.78},
{"p":3,"s":"3 µm/NaCl","t":0,"v":1.02},{"p":3,"s":"3 µm/NaCl","t":60,"v":0.99},{"p":3,"s":"3 µm/NaCl","t":120,"v":0.955},{"p":3,"s":"3 µm/NaCl","t":180,"v":0.91},
{"p":3,"s":"0.5 µm/Na₂SO₄","t":0,"v":0.99},{"p":3,"s":"0.5 µm/Na₂SO₄","t":60,"v":0.895},{"p":3,"s":"0.5 µm/Na₂SO₄","t":120,"v":0.8},{"p":3,"s":"0.5 µm/Na₂SO₄","t":180,"v":0.72},
{"p":3,"s":"1 µm/Na₂SO₄","t":0,"v":1.015},{"p":3,"s":"1 µm/Na₂SO₄","t":60,"v":0.93},{"p":3,"s":"1 µm/Na₂SO₄","t":120,"v":0.86},{"p":3,"s":"1 µm/Na₂SO₄","t":180,"v":0.79},
{"p":4,"s":"Bare PVDF","t":0,"v":1},{"p":4,"s":"Bare PVDF","t":2,"v":0.86},{"p":4,"s":"Bare PVDF","t":5,"v":0.74},{"p":4,"s":"Bare PVDF","t":10,"v":0.6},{"p":4,"s":"Bare PVDF","t":15,"v":0.49},{"p":4,"s":"Bare PVDF","t":20,"v":0.41},{"p":4,"s":"Bare PVDF","t":30,"v":0.31},{"p":4,"s":"Bare PVDF","t":40,"v":0.26},{"p":4,"s":"Bare PVDF","t":50,"v":0.225},{"p":4,"s":"Bare PVDF","t":60,"v":0.2},{"p":4,"s":"Bare PVDF","t":80,"v":0.165},{"p":4,"s":"Bare PVDF","t":100,"v":0.14},{"p":4,"s":"Bare PVDF","t":130,"v":0.11},{"p":4,"s":"Bare PVDF","t":160,"v":0.09},{"p":4,"s":"Bare PVDF","t":180,"v":0.075},
{"p":4,"s":"0.5 µm/KCl","t":0,"v":1},{"p":4,"s":"0.5 µm/KCl","t":30,"v":0.835},{"p":4,"s":"0.5 µm/KCl","t":60,"v":0.74},{"p":4,"s":"0.5 µm/KCl","t":90,"v":0.665},{"p":4,"s":"0.5 µm/KCl","t":120,"v":0.595},{"p":4,"s":"0.5 µm/KCl","t":150,"v":0.535},{"p":4,"s":"0.5 µm/KCl","t":180,"v":0.475},
{"p":4,"s":"0.5 µm/NaCl","t":0,"v":1},{"p":4,"s":"0.5 µm/NaCl","t":30,"v":0.89},{"p":4,"s":"0.5 µm/NaCl","t":60,"v":0.825},{"p":4,"s":"0.5 µm/NaCl","t":90,"v":0.765},{"p":4,"s":"0.5 µm/NaCl","t":120,"v":0.71},{"p":4,"s":"0.5 µm/NaCl","t":150,"v":0.665},{"p":4,"s":"0.5 µm/NaCl","t":180,"v":0.625},
{"p":4,"s":"0.5 µm/CaCl₂","t":0,"v":1},{"p":4,"s":"0.5 µm/CaCl₂","t":30,"v":0.905},{"p":4,"s":"0.5 µm/CaCl₂","t":60,"v":0.85},{"p":4,"s":"0.5 µm/CaCl₂","t":90,"v":0.8},{"p":4,"s":"0.5 µm/CaCl₂","t":120,"v":0.76},{"p":4,"s":"0.5 µm/CaCl₂","t":150,"v":0.72},{"p":4,"s":"0.5 µm/CaCl₂","t":180,"v":0.68},
{"p":4,"s":"0.5 µm/CrCl₃","t":0,"v":1},{"p":4,"s":"0.5 µm/CrCl₃","t":30,"v":0.925},{"p":4,"s":"0.5 µm/CrCl₃","t":60,"v":0.875},{"p":4,"s":"0.5 µm/CrCl₃","t":90,"v":0.835},{"p":4,"s":"0.5 µm/CrCl₃","t":120,"v":0.8},{"p":4,"s":"0.5 µm/CrCl₃","t":150,"v":0.765},{"p":4,"s":"0.5 µm/CrCl₃","t":180,"v":0.735},
{"p":4,"s":"0.5 µm/AlCl₃","t":0,"v":1},{"p":4,"s":"0.5 µm/AlCl₃","t":30,"v":0.92},{"p":4,"s":"0.5 µm/AlCl₃","t":60,"v":0.87},{"p":4,"s":"0.5 µm/AlCl₃","t":90,"v":0.83},{"p":4,"s":"0.5 µm/AlCl₃","t":120,"v":0.79},{"p":4,"s":"0.5 µm/AlCl₃","t":150,"v":0.755},{"p":4,"s":"0.5 µm/AlCl₃","t":180,"v":0.72},
{"p":4,"s":"1 µm/NaCl","t":0,"v":1},{"p":4,"s":"1 µm/NaCl","t":30,"v":0.94},{"p":4,"s":"1 µm/NaCl","t":60,"v":0.895},{"p":4,"s":"1 µm/NaCl","t":90,"v":0.855},{"p":4,"s":"1 µm/NaCl","t":120,"v":0.82},{"p":4,"s":"1 µm/NaCl","t":150,"v":0.78},{"p":4,"s":"1 µm/NaCl","t":180,"v":0.745},
{"p":4,"s":"3 µm/NaCl","t":0,"v":1},{"p":4,"s":"3 µm/NaCl","t":90,"v":0.995},{"p":4,"s":"3 µm/NaCl","t":120,"v":0.985},{"p":4,"s":"3 µm/NaCl","t":150,"v":0.97},{"p":4,"s":"3 µm/NaCl","t":180,"v":0.95},
{"p":4,"s":"0.5 µm/Na₂SO₄","t":0,"v":1},{"p":4,"s":"0.5 µm/Na₂SO₄","t":30,"v":0.905},{"p":4,"s":"0.5 µm/Na₂SO₄","t":60,"v":0.85},{"p":4,"s":"0.5 µm/Na₂SO₄","t":90,"v":0.8},{"p":4,"s":"0.5 µm/Na₂SO₄","t":120,"v":0.755},{"p":4,"s":"0.5 µm/Na₂SO₄","t":150,"v":0.715},{"p":4,"s":"0.5 µm/Na₂SO₄","t":180,"v":0.675},
{"p":4,"s":"1 µm/Na₂SO₄","t":0,"v":1},{"p":4,"s":"1 µm/Na₂SO₄","t":30,"v":0.943},{"p":4,"s":"1 µm/Na₂SO₄","t":60,"v":0.907},{"p":4,"s":"1 µm/Na₂SO₄","t":90,"v":0.877},{"p":4,"s":"1 µm/Na₂SO₄","t":120,"v":0.849},{"p":4,"s":"1 µm/Na₂SO₄","t":150,"v":0.824},{"p":4,"s":"1 µm/Na₂SO₄","t":180,"v":0.8},
{"p":5,"s":"Bare PVDF","t":0,"v":1},{"p":5,"s":"Bare PVDF","t":2,"v":0.87},{"p":5,"s":"Bare PVDF","t":5,"v":0.74},{"p":5,"s":"Bare PVDF","t":10,"v":0.6},{"p":5,"s":"Bare PVDF","t":15,"v":0.49},{"p":5,"s":"Bare PVDF","t":20,"v":0.41},{"p":5,"s":"Bare PVDF","t":30,"v":0.31},{"p":5,"s":"Bare PVDF","t":40,"v":0.26},{"p":5,"s":"Bare PVDF","t":50,"v":0.225},{"p":5,"s":"Bare PVDF","t":60,"v":0.2},{"p":5,"s":"Bare PVDF","t":80,"v":0.165},{"p":5,"s":"Bare PVDF","t":100,"v":0.14},{"p":5,"s":"Bare PVDF","t":130,"v":0.105},{"p":5,"s":"Bare PVDF","t":160,"v":0.075},{"p":5,"s":"Bare PVDF","t":180,"v":0.055},
{"p":5,"s":"0.5 µm/KCl","t":0,"v":1},{"p":5,"s":"0.5 µm/KCl","t":30,"v":0.835},{"p":5,"s":"0.5 µm/KCl","t":60,"v":0.74},{"p":5,"s":"0.5 µm/KCl","t":90,"v":0.66},{"p":5,"s":"0.5 µm/KCl","t":120,"v":0.59},{"p":5,"s":"0.5 µm/KCl","t":150,"v":0.525},{"p":5,"s":"0.5 µm/KCl","t":180,"v":0.47},
{"p":5,"s":"0.5 µm/NaCl","t":0,"v":1},{"p":5,"s":"0.5 µm/NaCl","t":30,"v":0.89},{"p":5,"s":"0.5 µm/NaCl","t":60,"v":0.825},{"p":5,"s":"0.5 µm/NaCl","t":90,"v":0.77},{"p":5,"s":"0.5 µm/NaCl","t":120,"v":0.72},{"p":5,"s":"0.5 µm/NaCl","t":150,"v":0.675},{"p":5,"s":"0.5 µm/NaCl","t":180,"v":0.637},
{"p":5,"s":"0.5 µm/CaCl₂","t":0,"v":1},{"p":5,"s":"0.5 µm/CaCl₂","t":30,"v":0.905},{"p":5,"s":"0.5 µm/CaCl₂","t":60,"v":0.845},{"p":5,"s":"0.5 µm/CaCl₂","t":90,"v":0.795},{"p":5,"s":"0.5 µm/CaCl₂","t":120,"v":0.745},{"p":5,"s":"0.5 µm/CaCl₂","t":150,"v":0.7},{"p":5,"s":"0.5 µm/CaCl₂","t":180,"v":0.662},
{"p":5,"s":"0.5 µm/CrCl₃","t":0,"v":1},{"p":5,"s":"0.5 µm/CrCl₃","t":30,"v":0.925},{"p":5,"s":"0.5 µm/CrCl₃","t":60,"v":0.875},{"p":5,"s":"0.5 µm/CrCl₃","t":90,"v":0.83},{"p":5,"s":"0.5 µm/CrCl₃","t":120,"v":0.79},{"p":5,"s":"0.5 µm/CrCl₃","t":150,"v":0.755},{"p":5,"s":"0.5 µm/CrCl₃","t":180,"v":0.725},
{"p":5,"s":"0.5 µm/AlCl₃","t":0,"v":1},{"p":5,"s":"0.5 µm/AlCl₃","t":30,"v":0.93},{"p":5,"s":"0.5 µm/AlCl₃","t":60,"v":0.88},{"p":5,"s":"0.5 µm/AlCl₃","t":90,"v":0.84},{"p":5,"s":"0.5 µm/AlCl₃","t":120,"v":0.8},{"p":5,"s":"0.5 µm/AlCl₃","t":150,"v":0.765},{"p":5,"s":"0.5 µm/AlCl₃","t":180,"v":0.73},
{"p":5,"s":"1 µm/NaCl","t":0,"v":1},{"p":5,"s":"1 µm/NaCl","t":30,"v":0.935},{"p":5,"s":"1 µm/NaCl","t":60,"v":0.89},{"p":5,"s":"1 µm/NaCl","t":90,"v":0.85},{"p":5,"s":"1 µm/NaCl","t":120,"v":0.815},{"p":5,"s":"1 µm/NaCl","t":150,"v":0.78},{"p":5,"s":"1 µm/NaCl","t":180,"v":0.75},
{"p":5,"s":"3 µm/NaCl","t":0,"v":1},{"p":5,"s":"3 µm/NaCl","t":90,"v":0.99},{"p":5,"s":"3 µm/NaCl","t":180,"v":0.98},
{"p":5,"s":"0.5 µm/Na₂SO₄","t":0,"v":1},{"p":5,"s":"0.5 µm/Na₂SO₄","t":30,"v":0.91},{"p":5,"s":"0.5 µm/Na₂SO₄","t":60,"v":0.855},{"p":5,"s":"0.5 µm/Na₂SO₄","t":90,"v":0.805},{"p":5,"s":"0.5 µm/Na₂SO₄","t":120,"v":0.76},{"p":5,"s":"0.5 µm/Na₂SO₄","t":150,"v":0.72},{"p":5,"s":"0.5 µm/Na₂SO₄","t":180,"v":0.685},
{"p":5,"s":"1 µm/Na₂SO₄","t":0,"v":1},{"p":5,"s":"1 µm/Na₂SO₄","t":30,"v":0.94},{"p":5,"s":"1 µm/Na₂SO₄","t":60,"v":0.905},{"p":5,"s":"1 µm/Na₂SO₄","t":90,"v":0.875},{"p":5,"s":"1 µm/Na₂SO₄","t":120,"v":0.85},{"p":5,"s":"1 µm/Na₂SO₄","t":150,"v":0.825},{"p":5,"s":"1 µm/Na₂SO₄","t":180,"v":0.8}
]
},
"vconcat": [
{"title": {"text": "Relative resistivity", "orient": "left", "anchor": "middle", "fontSize": 20, "fontWeight": "normal", "color": "#262626", "offset": 4},
 "vconcat": [
 {"hconcat": [
  {"width": 282, "height": 214,
   "title": {"text": "1 Node | Trial: 4", "subtitle": "R²: 0.9376 | 5 Epochs"},
   "encoding": {
    "x": {"field": "t", "type": "quantitative", "scale": {"domain": [0, 190], "nice": false}, "axis": {"values": [0, 50, 100, 150], "title": null}},
    "y": {"field": "v", "type": "quantitative", "scale": {"domain": [0, 1.2], "nice": false}, "axis": {"values": [0, 0.2, 0.4, 0.6, 0.8, 1], "format": "~g", "title": null, "minExtent": 40, "maxExtent": 40}}},
   "layer": [
    {"data": {"name": "exp"}, "mark": {"type": "point", "filled": true, "opacity": 1, "size": 90, "stroke": "#333", "strokeWidth": 0.7},
     "encoding": {
      "fill": {"field": "s", "type": "nominal", "scale": {"domain": ["Bare PVDF","0.5 µm/KCl","0.5 µm/NaCl","0.5 µm/CaCl₂","0.5 µm/CrCl₃","0.5 µm/AlCl₃","1 µm/NaCl","3 µm/NaCl","0.5 µm/Na₂SO₄","1 µm/Na₂SO₄"], "range": ["#D95319","#EDB120","#7E2F8E","#77AC30","#4DBEEE","#A2142F","#0072BD","#D95319","#EDB120","#7E2F8E"]},
        "legend": {"title": "Experiment", "orient": "none", "legendX": 706, "legendY": 326, "labelOffset": 20, "titleAnchor": "middle", "symbolStrokeColor": "#333", "symbolStrokeWidth": 0.8, "symbolSize": 100}},
      "shape": {"field": "s", "type": "nominal", "scale": {"domain": ["Bare PVDF","0.5 µm/KCl","0.5 µm/NaCl","0.5 µm/CaCl₂","0.5 µm/CrCl₃","0.5 µm/AlCl₃","1 µm/NaCl","3 µm/NaCl","0.5 µm/Na₂SO₄","1 µm/Na₂SO₄"], "range": ["circle","triangle-up","diamond","triangle-right","M0,-1L0.289,-0.5L0.866,-0.5L0.577,0L0.866,0.5L0.289,0.5L0,1L-0.289,0.5L-0.866,0.5L-0.577,0L-0.866,-0.5L-0.289,-0.5Z","triangle-left","M0,-1L0.2245,-0.309L0.951,-0.309L0.363,0.118L0.588,0.809L0,0.382L-0.588,0.809L-0.363,0.118L-0.951,-0.309L-0.2245,-0.309Z","square","circle","circle"]},
        "legend": {"title": "Experiment", "orient": "none", "legendX": 706, "legendY": 326, "labelOffset": 20, "titleAnchor": "middle", "symbolStrokeColor": "#333", "symbolStrokeWidth": 0.8, "symbolSize": 100}}}},
    {"data": {"name": "fit"}, "transform": [{"filter": "datum.p == 1"}], "mark": {"type": "line", "strokeWidth": 2.8, "interpolate": "monotone", "clip": true},
     "encoding": {"stroke": {"field": "s", "type": "nominal", "scale": {"domain": ["1 µm/Na₂SO₄","0.5 µm/Na₂SO₄","3 µm/NaCl","1 µm/NaCl","0.5 µm/AlCl₃","0.5 µm/CrCl₃","0.5 µm/CaCl₂","0.5 µm/NaCl","0.5 µm/KCl","Bare PVDF"], "range": ["#0072BD","#A2142F","#4DBEEE","#77AC30","#7E2F8E","#EDB120","#D95319","#0072BD","#A2142F","#4DBEEE"]},
       "legend": {"title": "Trained lines", "orient": "none", "legendX": 889, "legendY": 326, "values": ["Bare PVDF","0.5 µm/KCl","0.5 µm/NaCl","0.5 µm/CaCl₂","0.5 µm/CrCl₃","0.5 µm/AlCl₃","1 µm/NaCl","3 µm/NaCl","0.5 µm/Na₂SO₄","1 µm/Na₂SO₄"], "symbolType": "M-5,0H5", "symbolStrokeWidth": 3, "symbolSize": 100, "labelOffset": 21, "titleAnchor": "middle"}}}}
   ]},
  {"width": 282, "height": 214,
   "title": {"text": "2 Node | Trial: 5", "subtitle": "R²: 0.9851 | 48 Epochs"},
   "encoding": {
    "x": {"field": "t", "type": "quantitative", "scale": {"domain": [0, 190], "nice": false}, "axis": {"values": [0, 50, 100, 150], "title": null}},
    "y": {"field": "v", "type": "quantitative", "scale": {"domain": [0, 1.2], "nice": false}, "axis": {"values": [0, 0.2, 0.4, 0.6, 0.8, 1], "format": "~g", "title": null, "minExtent": 40, "maxExtent": 40}}},
   "layer": [
    {"data": {"name": "exp"}, "mark": {"type": "point", "filled": true, "opacity": 1, "size": 90, "stroke": "#333", "strokeWidth": 0.7},
     "encoding": {
      "fill": {"field": "s", "type": "nominal", "scale": {"domain": ["Bare PVDF","0.5 µm/KCl","0.5 µm/NaCl","0.5 µm/CaCl₂","0.5 µm/CrCl₃","0.5 µm/AlCl₃","1 µm/NaCl","3 µm/NaCl","0.5 µm/Na₂SO₄","1 µm/Na₂SO₄"], "range": ["#D95319","#EDB120","#7E2F8E","#77AC30","#4DBEEE","#A2142F","#0072BD","#D95319","#EDB120","#7E2F8E"]}},
      "shape": {"field": "s", "type": "nominal", "scale": {"domain": ["Bare PVDF","0.5 µm/KCl","0.5 µm/NaCl","0.5 µm/CaCl₂","0.5 µm/CrCl₃","0.5 µm/AlCl₃","1 µm/NaCl","3 µm/NaCl","0.5 µm/Na₂SO₄","1 µm/Na₂SO₄"], "range": ["circle","triangle-up","diamond","triangle-right","M0,-1L0.289,-0.5L0.866,-0.5L0.577,0L0.866,0.5L0.289,0.5L0,1L-0.289,0.5L-0.866,0.5L-0.577,0L-0.866,-0.5L-0.289,-0.5Z","triangle-left","M0,-1L0.2245,-0.309L0.951,-0.309L0.363,0.118L0.588,0.809L0,0.382L-0.588,0.809L-0.363,0.118L-0.951,-0.309L-0.2245,-0.309Z","square","circle","circle"]}}}},
    {"data": {"name": "fit"}, "transform": [{"filter": "datum.p == 2"}], "mark": {"type": "line", "strokeWidth": 2.8, "interpolate": "monotone", "clip": true},
     "encoding": {"stroke": {"field": "s", "type": "nominal", "scale": {"domain": ["1 µm/Na₂SO₄","0.5 µm/Na₂SO₄","3 µm/NaCl","1 µm/NaCl","0.5 µm/AlCl₃","0.5 µm/CrCl₃","0.5 µm/CaCl₂","0.5 µm/NaCl","0.5 µm/KCl","Bare PVDF"], "range": ["#0072BD","#A2142F","#4DBEEE","#77AC30","#7E2F8E","#EDB120","#D95319","#0072BD","#A2142F","#4DBEEE"]}}}}
   ]},
  {"width": 282, "height": 214,
   "title": {"text": "3 Node | Trial: 5", "subtitle": "R²: 0.9884 | 238 Epochs"},
   "encoding": {
    "x": {"field": "t", "type": "quantitative", "scale": {"domain": [0, 190], "nice": false}, "axis": {"values": [0, 50, 100, 150], "title": null}},
    "y": {"field": "v", "type": "quantitative", "scale": {"domain": [0, 1.2], "nice": false}, "axis": {"values": [0, 0.2, 0.4, 0.6, 0.8, 1], "format": "~g", "title": null, "minExtent": 40, "maxExtent": 40}}},
   "layer": [
    {"data": {"name": "exp"}, "mark": {"type": "point", "filled": true, "opacity": 1, "size": 90, "stroke": "#333", "strokeWidth": 0.7},
     "encoding": {
      "fill": {"field": "s", "type": "nominal", "scale": {"domain": ["Bare PVDF","0.5 µm/KCl","0.5 µm/NaCl","0.5 µm/CaCl₂","0.5 µm/CrCl₃","0.5 µm/AlCl₃","1 µm/NaCl","3 µm/NaCl","0.5 µm/Na₂SO₄","1 µm/Na₂SO₄"], "range": ["#D95319","#EDB120","#7E2F8E","#77AC30","#4DBEEE","#A2142F","#0072BD","#D95319","#EDB120","#7E2F8E"]}},
      "shape": {"field": "s", "type": "nominal", "scale": {"domain": ["Bare PVDF","0.5 µm/KCl","0.5 µm/NaCl","0.5 µm/CaCl₂","0.5 µm/CrCl₃","0.5 µm/AlCl₃","1 µm/NaCl","3 µm/NaCl","0.5 µm/Na₂SO₄","1 µm/Na₂SO₄"], "range": ["circle","triangle-up","diamond","triangle-right","M0,-1L0.289,-0.5L0.866,-0.5L0.577,0L0.866,0.5L0.289,0.5L0,1L-0.289,0.5L-0.866,0.5L-0.577,0L-0.866,-0.5L-0.289,-0.5Z","triangle-left","M0,-1L0.2245,-0.309L0.951,-0.309L0.363,0.118L0.588,0.809L0,0.382L-0.588,0.809L-0.363,0.118L-0.951,-0.309L-0.2245,-0.309Z","square","circle","circle"]}}}},
    {"data": {"name": "fit"}, "transform": [{"filter": "datum.p == 3"}], "mark": {"type": "line", "strokeWidth": 2.8, "interpolate": "monotone", "clip": true},
     "encoding": {"stroke": {"field": "s", "type": "nominal", "scale": {"domain": ["1 µm/Na₂SO₄","0.5 µm/Na₂SO₄","3 µm/NaCl","1 µm/NaCl","0.5 µm/AlCl₃","0.5 µm/CrCl₃","0.5 µm/CaCl₂","0.5 µm/NaCl","0.5 µm/KCl","Bare PVDF"], "range": ["#0072BD","#A2142F","#4DBEEE","#77AC30","#7E2F8E","#EDB120","#D95319","#0072BD","#A2142F","#4DBEEE"]}}}}
   ]}
 ], "spacing": 37},
 {"hconcat": [
  {"width": 282, "height": 214,
   "title": {"text": "4 Node | Trial: 3", "subtitle": "R²: 0.9964 | 35 Epochs"},
   "encoding": {
    "x": {"field": "t", "type": "quantitative", "scale": {"domain": [0, 190], "nice": false}, "axis": {"values": [0, 50, 100, 150], "title": null}},
    "y": {"field": "v", "type": "quantitative", "scale": {"domain": [0, 1.2], "nice": false}, "axis": {"values": [0, 0.2, 0.4, 0.6, 0.8, 1], "format": "~g", "title": null, "minExtent": 40, "maxExtent": 40}}},
   "layer": [
    {"data": {"name": "exp"}, "mark": {"type": "point", "filled": true, "opacity": 1, "size": 90, "stroke": "#333", "strokeWidth": 0.7},
     "encoding": {
      "fill": {"field": "s", "type": "nominal", "scale": {"domain": ["Bare PVDF","0.5 µm/KCl","0.5 µm/NaCl","0.5 µm/CaCl₂","0.5 µm/CrCl₃","0.5 µm/AlCl₃","1 µm/NaCl","3 µm/NaCl","0.5 µm/Na₂SO₄","1 µm/Na₂SO₄"], "range": ["#D95319","#EDB120","#7E2F8E","#77AC30","#4DBEEE","#A2142F","#0072BD","#D95319","#EDB120","#7E2F8E"]}},
      "shape": {"field": "s", "type": "nominal", "scale": {"domain": ["Bare PVDF","0.5 µm/KCl","0.5 µm/NaCl","0.5 µm/CaCl₂","0.5 µm/CrCl₃","0.5 µm/AlCl₃","1 µm/NaCl","3 µm/NaCl","0.5 µm/Na₂SO₄","1 µm/Na₂SO₄"], "range": ["circle","triangle-up","diamond","triangle-right","M0,-1L0.289,-0.5L0.866,-0.5L0.577,0L0.866,0.5L0.289,0.5L0,1L-0.289,0.5L-0.866,0.5L-0.577,0L-0.866,-0.5L-0.289,-0.5Z","triangle-left","M0,-1L0.2245,-0.309L0.951,-0.309L0.363,0.118L0.588,0.809L0,0.382L-0.588,0.809L-0.363,0.118L-0.951,-0.309L-0.2245,-0.309Z","square","circle","circle"]}}}},
    {"data": {"name": "fit"}, "transform": [{"filter": "datum.p == 4"}], "mark": {"type": "line", "strokeWidth": 2.8, "interpolate": "monotone", "clip": true},
     "encoding": {"stroke": {"field": "s", "type": "nominal", "scale": {"domain": ["1 µm/Na₂SO₄","0.5 µm/Na₂SO₄","3 µm/NaCl","1 µm/NaCl","0.5 µm/AlCl₃","0.5 µm/CrCl₃","0.5 µm/CaCl₂","0.5 µm/NaCl","0.5 µm/KCl","Bare PVDF"], "range": ["#0072BD","#A2142F","#4DBEEE","#77AC30","#7E2F8E","#EDB120","#D95319","#0072BD","#A2142F","#4DBEEE"]}}}}
   ]},
  {"width": 282, "height": 214,
   "title": {"text": "5 Node | Trial: 2", "subtitle": "R²: 0.9990 | 119 Epochs"},
   "encoding": {
    "x": {"field": "t", "type": "quantitative", "scale": {"domain": [0, 190], "nice": false}, "axis": {"values": [0, 50, 100, 150], "title": "Time (min)", "titleX": 152, "titleY": 29, "titleAlign": "center", "titleBaseline": "top"}},
    "y": {"field": "v", "type": "quantitative", "scale": {"domain": [0, 1.2], "nice": false}, "axis": {"values": [0, 0.2, 0.4, 0.6, 0.8, 1], "format": "~g", "title": null, "minExtent": 40, "maxExtent": 40}}},
   "layer": [
    {"data": {"name": "exp"}, "mark": {"type": "point", "filled": true, "opacity": 1, "size": 90, "stroke": "#333", "strokeWidth": 0.7},
     "encoding": {
      "fill": {"field": "s", "type": "nominal", "scale": {"domain": ["Bare PVDF","0.5 µm/KCl","0.5 µm/NaCl","0.5 µm/CaCl₂","0.5 µm/CrCl₃","0.5 µm/AlCl₃","1 µm/NaCl","3 µm/NaCl","0.5 µm/Na₂SO₄","1 µm/Na₂SO₄"], "range": ["#D95319","#EDB120","#7E2F8E","#77AC30","#4DBEEE","#A2142F","#0072BD","#D95319","#EDB120","#7E2F8E"]}},
      "shape": {"field": "s", "type": "nominal", "scale": {"domain": ["Bare PVDF","0.5 µm/KCl","0.5 µm/NaCl","0.5 µm/CaCl₂","0.5 µm/CrCl₃","0.5 µm/AlCl₃","1 µm/NaCl","3 µm/NaCl","0.5 µm/Na₂SO₄","1 µm/Na₂SO₄"], "range": ["circle","triangle-up","diamond","triangle-right","M0,-1L0.289,-0.5L0.866,-0.5L0.577,0L0.866,0.5L0.289,0.5L0,1L-0.289,0.5L-0.866,0.5L-0.577,0L-0.866,-0.5L-0.289,-0.5Z","triangle-left","M0,-1L0.2245,-0.309L0.951,-0.309L0.363,0.118L0.588,0.809L0,0.382L-0.588,0.809L-0.363,0.118L-0.951,-0.309L-0.2245,-0.309Z","square","circle","circle"]}}}},
    {"data": {"name": "fit"}, "transform": [{"filter": "datum.p == 5"}], "mark": {"type": "line", "strokeWidth": 2.8, "interpolate": "monotone", "clip": true},
     "encoding": {"stroke": {"field": "s", "type": "nominal", "scale": {"domain": ["1 µm/Na₂SO₄","0.5 µm/Na₂SO₄","3 µm/NaCl","1 µm/NaCl","0.5 µm/AlCl₃","0.5 µm/CrCl₃","0.5 µm/CaCl₂","0.5 µm/NaCl","0.5 µm/KCl","Bare PVDF"], "range": ["#0072BD","#A2142F","#4DBEEE","#77AC30","#7E2F8E","#EDB120","#D95319","#0072BD","#A2142F","#4DBEEE"]}}}}
   ]},
  {"width": 356, "height": 248, "view": {"stroke": "#9a9a9a", "strokeWidth": 1},
   "data": {"name": "exp"}, "mark": {"type": "point", "opacity": 0},
   "encoding": {"x": {"field": "t", "type": "quantitative", "axis": null}, "y": {"field": "v", "type": "quantitative", "axis": null}}}
 ], "spacing": 37}
 ], "spacing": 31}
],
"resolve": {"scale": {"fill": "shared", "shape": "shared", "stroke": "shared"}},
"config": {
 "font": "Liberation Sans, Arial, DejaVu Sans, sans-serif",
 "view": {"stroke": "#9a9a9a", "strokeWidth": 1},
 "axis": {"grid": false, "domain": false, "ticks": true, "tickColor": "#8a8a8a", "tickSize": -5, "labelPadding": 10, "labelFontSize": 17, "labelColor": "#262626", "labelFlush": false, "titleFontSize": 20, "titleFontWeight": "normal", "titleColor": "#262626"},
 "title": {"fontSize": 20, "fontWeight": "bold", "color": "#000", "subtitleFontSize": 20, "subtitleColor": "#000", "subtitlePadding": 8, "offset": 4},
 "legend": {"padding": 0, "labelFontSize": 16.5, "titleFontSize": 16.5, "titleFontWeight": "normal", "labelColor": "#000", "titleColor": "#000", "rowPadding": 5.7, "titlePadding": 6}
}
}
